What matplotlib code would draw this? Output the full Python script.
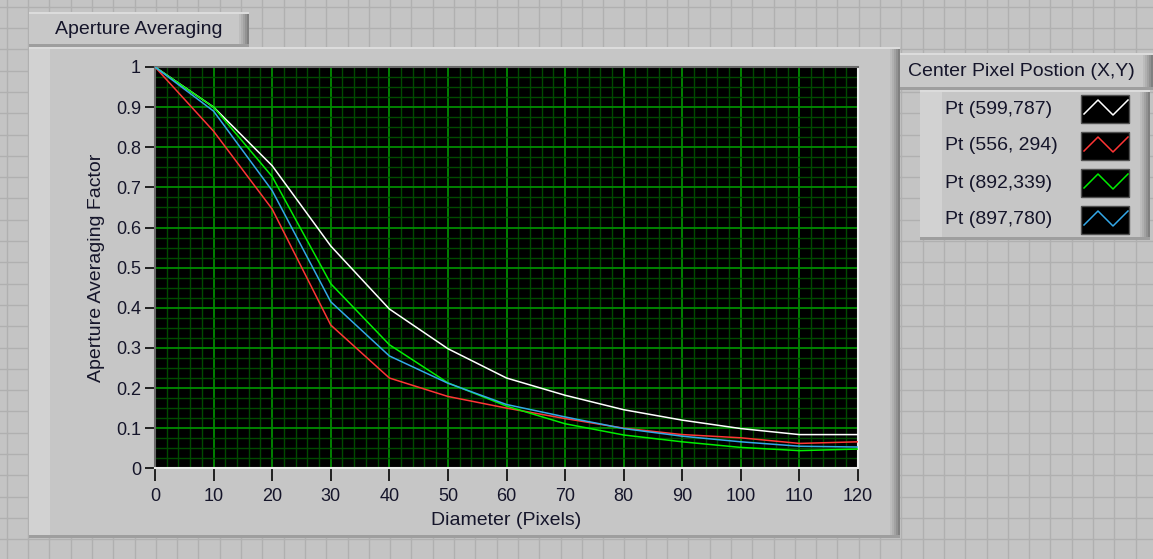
import matplotlib
matplotlib.use('Agg')
import matplotlib.pyplot as plt
from matplotlib.patches import Rectangle
from matplotlib.ticker import MultipleLocator, FuncFormatter
import numpy as np

plt.rcParams['font.family'] = ['Liberation Sans', 'DejaVu Sans']

W, H = 1153, 559

# data
diameter = [0, 10, 20, 30, 40, 50, 60, 70, 80, 90, 100, 110, 120]
pt_599_787 = [1.0, 0.90, 0.754, 0.554, 0.397, 0.298, 0.225, 0.182, 0.146, 0.120, 0.099, 0.084, 0.084]
pt_556_294 = [1.0, 0.84, 0.646, 0.357, 0.225, 0.179, 0.150, 0.124, 0.100, 0.084, 0.076, 0.062, 0.066]
pt_892_339 = [1.0, 0.90, 0.727, 0.460, 0.308, 0.213, 0.155, 0.111, 0.083, 0.066, 0.052, 0.044, 0.048]
pt_897_780 = [1.0, 0.89, 0.692, 0.415, 0.280, 0.212, 0.159, 0.128, 0.099, 0.080, 0.066, 0.055, 0.053]

series_labels = ['Pt (599,787)', 'Pt (556, 294)', 'Pt (892,339)', 'Pt (897,780)']
series_values = [pt_599_787, pt_556_294, pt_892_339, pt_897_780]
series_colors = ['#ffffff', '#ff3535', '#00ee00', '#33a8e8']

x_ticks = list(range(0, 121, 10))
y_ticks = [round(0.1 * i, 1) for i in range(11)]

TEXT = '#15152a'
FS = 14      # tab, legend, axis titles
FS_TICK = 13

fig = plt.figure(figsize=(W / 100, H / 100), dpi=100)
fig.patch.set_facecolor('#c4c4c4')

# panel chrome drawn in pixel coords
bg = fig.add_axes([0, 0, 1, 1])
bg.set_xlim(0, W)
bg.set_ylim(H, 0)
bg.axis('off')

for gx in np.arange(6.7, W, 21.3):
    bg.axvline(gx, color='#b0b0b0', lw=1.0, zorder=0)
for gy in np.arange(6.7, H, 21.3):
    bg.axhline(gy, color='#b0b0b0', lw=1.0, zorder=0)


def bevel_box(x0, y0, x1, y1, face='#c6c6c6', strip=None):
    bg.add_patch(Rectangle((x0, y0), x1 - x0, y1 - y0, fc=face, ec='none', zorder=1))
    # dark right edge gradient
    for i, c in enumerate(['#bcbcbc', '#b0b0b0', '#a2a2a2', '#929292', '#808080']):
        bg.add_patch(Rectangle((x1 - 10 + i * 2, y0), 2, y1 - y0, fc=c, ec='none', zorder=1))
    bg.add_patch(Rectangle((x0, y1 - 3), x1 - x0, 3, fc='#9e9e9e', ec='none', zorder=1))
    bg.add_patch(Rectangle((x0, y0), x1 - x0, 2, fc='#dcdcdc', ec='none', zorder=1))
    if strip:
        bg.add_patch(Rectangle((x0, y0 + 2), strip, y1 - y0 - 5, fc='#d2d2d2', ec='none', zorder=1))


# graph tab and main frame
bevel_box(29, 12, 249, 47, face='#c8c8c8')
bg.text(55, 29, 'Aperture Averaging', fontsize=FS, color=TEXT, va='center', ha='left', zorder=3)
bevel_box(29, 47, 900, 538, strip=21)

# legend
bevel_box(900, 53, 1153, 90, face='#c8c8c8')
bg.text(908, 72, 'Center Pixel Postion (X,Y)', fontsize=FS, color=TEXT, va='center', ha='left', zorder=3)
bevel_box(920, 90, 1150, 240, strip=22)
for i, (lab, col) in enumerate(zip(series_labels, series_colors)):
    cy = 109 + 37 * i
    bg.text(945, cy, lab, fontsize=FS, color=TEXT, va='center', ha='left', zorder=3)
    bg.add_patch(Rectangle((1081, cy - 14), 48, 28, fc='black', ec='#505050', lw=1, zorder=3))
    bg.plot([1084, 1098, 1113, 1128], [cy + 5, cy - 9, cy + 6, cy - 9], color=col, lw=1.1, zorder=4)

# plot area
left, right, top, bottom = 155, 858, 67, 468.3
ax = fig.add_axes([left / W, 1 - bottom / H, (right - left) / W, (bottom - top) / H])
ax.set_facecolor('black')

for vals, col in zip(series_values, series_colors):
    ax.plot(diameter, vals, color=col, lw=1.1, zorder=3)

ax.set_xlim(0, 120)
ax.set_ylim(0, 1)
ax.set_xticks(x_ticks)
ax.set_yticks(y_ticks)
ax.xaxis.set_minor_locator(MultipleLocator(2))
ax.yaxis.set_minor_locator(MultipleLocator(0.025))
ax.yaxis.set_major_formatter(FuncFormatter(lambda v, p: '%g' % v))
ax.grid(which='major', color='#008c00', lw=1.3, zorder=1)
ax.grid(which='minor', color='#004a00', lw=1.0, zorder=1)
ax.set_axisbelow(True)

ax.tick_params(which='minor', length=0)
ax.tick_params(axis='y', which='major', direction='out', length=7, width=1.4,
               color='#202020', labelsize=FS_TICK, labelcolor=TEXT, pad=3)
ax.tick_params(axis='x', which='major', direction='out', length=9, width=1.4,
               color='#202020', labelsize=FS_TICK, labelcolor=TEXT, pad=5)

ax.spines['top'].set_color('#6a6a6a')
ax.spines['left'].set_color('#6a6a6a')
ax.spines['bottom'].set_color('#ececec')
ax.spines['right'].set_color('#ececec')
for s in ax.spines.values():
    s.set_linewidth(1.5)

ax.set_xlabel('Diameter (Pixels)', fontsize=FS, color=TEXT, labelpad=5)
ax.set_ylabel('Aperture Averaging Factor', fontsize=FS, color=TEXT, labelpad=8)

fig.savefig('out.png', dpi=100, facecolor=fig.get_facecolor())
